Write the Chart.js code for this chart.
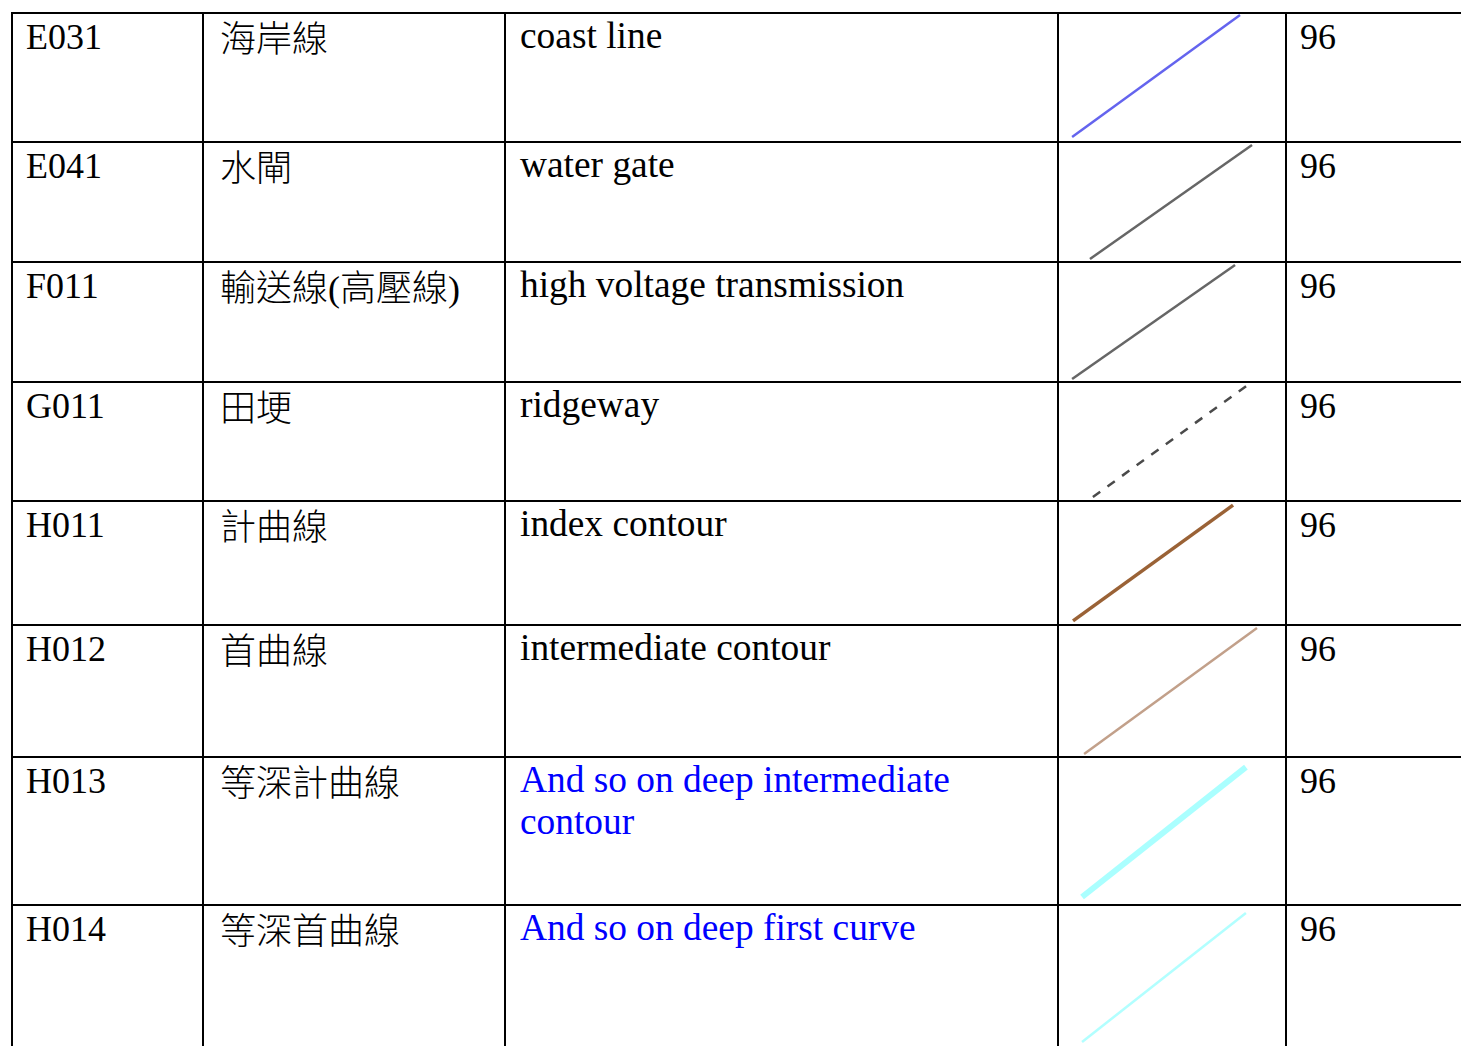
<!DOCTYPE html>
<html>
<head>
<meta charset="utf-8">
<script src="https://cdn.jsdelivr.net/npm/chart.js@4"></script>
<style>
  html, body { margin: 0; padding: 0; background: #fff; overflow: hidden; width: 1461px; height: 1046px; }
  #tabla {
    position: absolute; left: 11px; top: 12px;
    display: grid;
    grid-template-columns: 191px 302px 553px 228px 250px;
    grid-template-rows: 129px 120px 120px 119px 124px 132px 148px 150px;
    font-family: "Liberation Serif", "Noto Sans CJK TC", serif;
    font-size: 36px; line-height: 42px; color: #000;
  }
  .celda {
    box-sizing: border-box; border-top: 2px solid #000; border-left: 2px solid #000;
    padding: 2px 12px 0 13px; position: relative; white-space: normal;
  }
  .zh { padding-left: 16px; padding-top: 5px; font-weight: 300; }
  .en { font-size: 37.4px; padding-left: 14px; padding-top: 1px; }
  .azul { color: #0000ff; }
  .simbolo { padding: 0; }
  .simbolo .lienzo { position: absolute; left: 0; top: 0; right: 0; bottom: 0; }
</style>
</head>
<body>
<div id="tabla"></div>
<script>
// ===============================
// DATOS
// ===============================
const codigos = ["E031", "E041", "F011", "G011", "H011", "H012", "H013", "H014"];
const nombresZh = ["海岸線", "水閘", "輸送線(高壓線)", "田埂", "計曲線", "首曲線", "等深計曲線", "等深首曲線"];
const nombresEn = ["coast line", "water gate", "high voltage transmission", "ridgeway", "index contour",
  "intermediate contour", "And so on deep intermediate contour", "And so on deep first curve"];
const valores = ["96", "96", "96", "96", "96", "96", "96", "96"];

// muestra de linea: inicio y fin en % de la celda (x desde la izquierda, y desde abajo)
const inicioX = [5.8, 13.7, 5.8, 15.0, 6.2, 11.1, 10.2, 10.2];
const inicioY = [3.1, 1.7, 1.7, 2.6, 2.5, 1.5, 4.8, 8.1];
const finX = [80.1, 85.4, 77.9, 84.1, 77.0, 87.6, 82.7, 82.7];
const finY = [99.2, 98.3, 98.3, 99.1, 97.5, 98.5, 93.8, 95.3];

// ===============================
// ESTILOS
// ===============================
const coloresLinea = ["#6464ee", "#666666", "#666666", "#4a4a4a", "#9a6236", "#c2a08a", "#aaffff", "#b2ffff"];
const anchosLinea = [2.5, 2.5, 2.5, 2.5, 3.5, 2.5, 6, 2.5];
const trazosLinea = [[], [], [], [9, 9], [], [], [], []];
const textoAzul = [false, false, false, false, false, false, true, true];

// ===============================
// TABLA
// ===============================
const tabla = document.getElementById("tabla");

function celda(texto, clases) {
  const div = document.createElement("div");
  div.className = "celda " + (clases || "");
  if (texto !== null) div.textContent = texto;
  tabla.appendChild(div);
  return div;
}

codigos.forEach((codigo, i) => {
  celda(codigo);
  celda(nombresZh[i], "zh");
  celda(nombresEn[i], "en" + (textoAzul[i] ? " azul" : ""));
  const sim = celda(null, "simbolo");
  const caja = document.createElement("div");
  caja.className = "lienzo";
  const canvas = document.createElement("canvas");
  caja.appendChild(canvas);
  sim.appendChild(caja);
  celda(valores[i]);

  new Chart(canvas.getContext("2d"), {
    type: "line",
    data: {
      datasets: [{
        data: [{ x: inicioX[i], y: inicioY[i] }, { x: finX[i], y: finY[i] }],
        borderColor: coloresLinea[i],
        borderWidth: anchosLinea[i],
        borderDash: trazosLinea[i],
        borderCapStyle: "butt",
        pointRadius: 0,
        fill: false,
        clip: false
      }]
    },
    options: {
      responsive: true,
      maintainAspectRatio: false,
      animation: false,
      events: [],
      layout: { padding: 0 },
      plugins: { legend: { display: false }, tooltip: { enabled: false } },
      scales: {
        x: { type: "linear", min: 0, max: 100, display: false },
        y: { type: "linear", min: 0, max: 100, display: false }
      }
    }
  });
});
</script>
</body>
</html>
